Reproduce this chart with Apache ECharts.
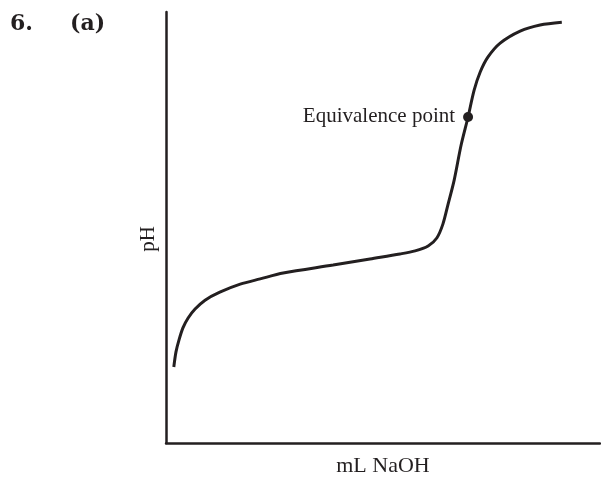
<!DOCTYPE html>
<html>
<head>
<meta charset="utf-8">
<script src="https://cdn.jsdelivr.net/npm/echarts@6/dist/echarts.min.js"></script>
<style>
  html, body { margin: 0; padding: 0; background: #fff; }
  #chart { width: 601px; height: 481px; }
</style>
</head>
<body>
<div id="chart"></div>
<script>
// Titration curve: weak acid titrated with NaOH (arbitrary volume units)
const volumeNaOH = [1.8, 2.3, 3.0, 3.9, 5.1, 6.7, 9.0, 12.4, 17.1, 21.7, 27.0, 38.5, 47.0, 53.9, 57.4, 60.4, 62.4, 63.8, 65.0, 66.4, 68.0, 69.6, 71.0, 72.4, 74.2, 77.0, 81.6, 86.2, 91.2];
const pHValues   = [2.47, 2.96, 3.35, 3.74, 4.06, 4.35, 4.64, 4.90, 5.16, 5.33, 5.52, 5.78, 5.98, 6.14, 6.24, 6.40, 6.66, 7.11, 7.76, 8.54, 9.68, 10.59, 11.46, 12.05, 12.54, 12.99, 13.38, 13.58, 13.67];
const equivalencePoint = [69.6, 10.59];
const equivalenceLabel = 'Equivalence point';
const xAxisTitle = 'mL NaOH';
const yAxisTitle = 'pH';

const curve = volumeNaOH.map((v, i) => [v, pHValues[i]]);
const serif = '"Liberation Serif", "Times New Roman", serif';
const ink = '#231f20';

const chart = echarts.init(document.getElementById('chart'), null, { renderer: 'canvas' });
chart.setOption({
  animation: false,
  backgroundColor: '#fff',
  grid: { left: 166, right: 1, top: 12, bottom: 38, outerBoundsMode: 'none', containLabel: false },
  xAxis: {
    type: 'value', min: 0, max: 100,
    name: xAxisTitle, nameLocation: 'middle', nameGap: 12,
    nameTextStyle: { fontFamily: serif, fontSize: 22, color: ink },
    axisLine: { show: true, lineStyle: { color: ink, width: 2.5 } },
    axisTick: { show: false }, axisLabel: { show: false }, splitLine: { show: false }
  },
  yAxis: {
    type: 'value', min: 0, max: 14,
    axisLine: { show: true, lineStyle: { color: ink, width: 2.5 } },
    axisTick: { show: false }, axisLabel: { show: false }, splitLine: { show: false }
  },
  graphic: [
    { type: 'text', left: 10, top: 13, style: { text: '6.', font: 'bold 22px "DejaVu Serif", serif', fill: ink } },
    { type: 'text', left: 70, top: 13, style: { text: '(a)', font: 'bold 22px "DejaVu Serif", serif', fill: ink } },
    {
      type: 'text', x: 148, y: 239, rotation: Math.PI / 2,
      style: { text: yAxisTitle, font: '21px ' + serif, fill: ink, align: 'center', verticalAlign: 'middle' }
    }
  ],
  series: [
    {
      type: 'line', data: curve, smooth: 0.3, showSymbol: false,
      lineStyle: { color: ink, width: 3 }, z: 2
    },
    {
      type: 'scatter', data: [equivalencePoint], symbolSize: 10,
      itemStyle: { color: ink, opacity: 1 }, z: 3,
      label: {
        show: true, position: 'left', distance: 8, formatter: equivalenceLabel,
        fontFamily: serif, fontSize: 21, color: ink
      }
    }
  ]
});
</script>
</body>
</html>
